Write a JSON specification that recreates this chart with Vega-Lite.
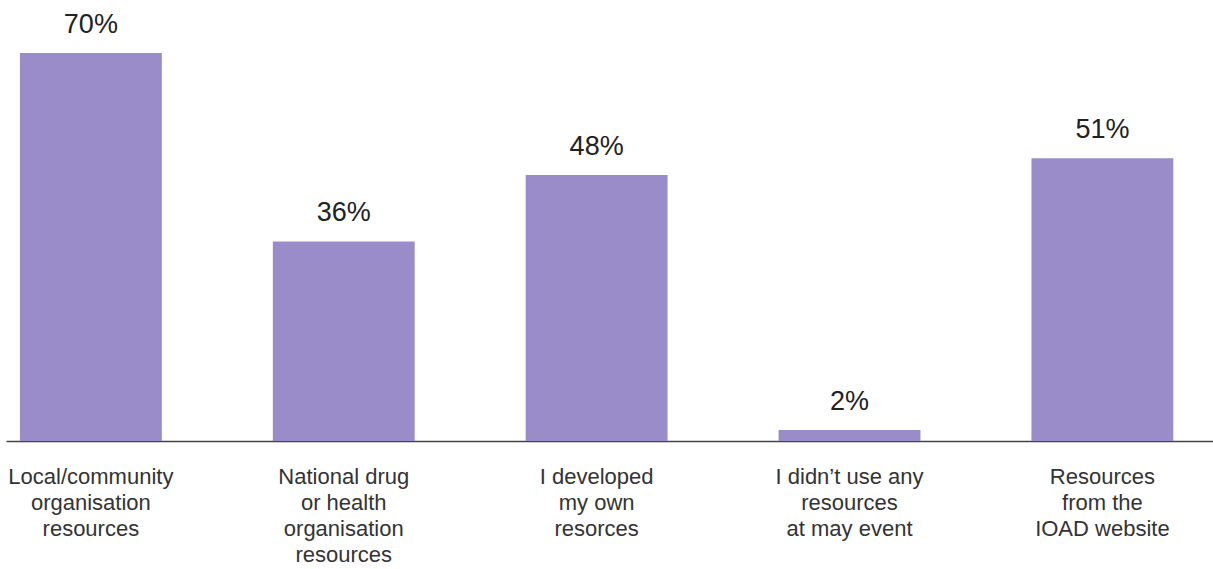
{
  "$schema": "https://vega.github.io/schema/vega-lite/v6.json",
  "autosize": "none",
  "width": 1207,
  "height": 388,
  "padding": {"left": 6, "top": 53, "right": 0, "bottom": 128},
  "background": "white",
  "data": {
    "values": [
      {"category": "Local/community|organisation|resources", "value": 70, "label": "70%"},
      {"category": "National drug|or health|organisation|resources", "value": 36, "label": "36%"},
      {"category": "I developed|my own|resorces", "value": 48, "label": "48%"},
      {"category": "I didn’t use any|resources|at may event", "value": 2, "label": "2%"},
      {"category": "Resources|from the|IOAD website", "value": 51, "label": "51%"}
    ]
  },
  "config": {
    "view": {"stroke": null},
    "font": "Liberation Sans"
  },
  "encoding": {
    "x": {
      "field": "category",
      "type": "nominal",
      "sort": null,
      "scale": {"paddingInner": 0.439, "paddingOuter": 0.106, "align": 0.26},
      "axis": {
        "title": null,
        "labelAngle": 0,
        "ticks": false,
        "domainColor": "#444444",
        "domainWidth": 1.6,
        "labelExpr": "split(datum.label, '|')",
        "labelFont": "Liberation Sans",
        "labelFontSize": 22,
        "labelColor": "#333333",
        "labelLineHeight": 26,
        "labelBaseline": "top",
        "labelPadding": 25,
        "labelLimit": 0
      }
    },
    "y": {
      "field": "value",
      "type": "quantitative",
      "scale": {"domain": [0, 70], "nice": false},
      "axis": null
    }
  },
  "layer": [
    {"mark": {"type": "bar", "color": "#9a8cc8"}},
    {
      "mark": {"type": "text", "baseline": "alphabetic", "dy": -20, "fontSize": 27, "color": "#222222", "font": "Liberation Sans"},
      "encoding": {"text": {"field": "label"}}
    }
  ]
}
